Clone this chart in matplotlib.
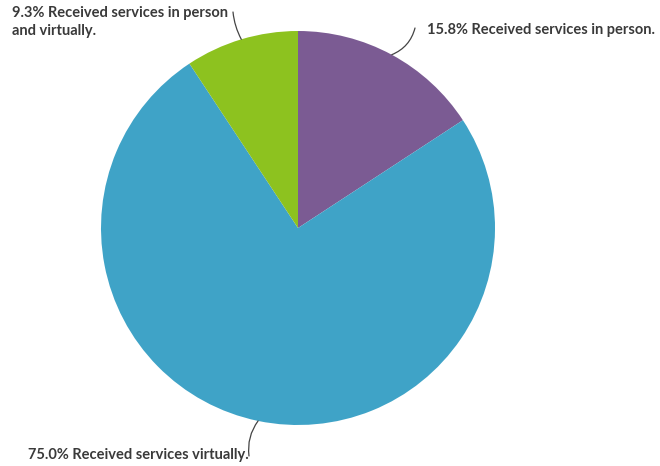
import numpy as np
import matplotlib.pyplot as plt

labels = ['15.8% Received services in person.',
          '75.0% Received services virtually.',
          '9.3% Received services in person\nand virtually.']
values = [15.8, 75.0, 9.3]
colors = ['#7b5b93', '#3fa3c7', '#8dc21f']

fig = plt.figure(figsize=(6.6, 4.66), dpi=100)
ax = fig.add_axes([0, 0, 1, 1])

cx, cy, r = 298, 238, 197
wedges, _ = ax.pie(values, colors=colors, startangle=90, counterclock=False,
                   center=(cx, cy), radius=r, frame=True,
                   wedgeprops=dict(linewidth=0))
ax.set_xlim(0, 660)
ax.set_ylim(0, 466)
ax.axis('off')

# label positions (text anchor, line end, curvature)
txt_pos = [(427, 436, 'left', 'center'), (28, 11, 'left', 'center'), (12, 460, 'left', 'top')]
line_end = [(415, 438), (249, 10), (233, 454)]
rads = [-0.25, -0.2, 0.1]

for w, lab, tp, le, rd in zip(wedges, labels, txt_pos, line_end, rads):
    mid = np.deg2rad((w.theta1 + w.theta2) / 2)
    px, py = cx + r * np.cos(mid), cy + r * np.sin(mid)
    ax.annotate('', xy=(px, py), xytext=le,
                arrowprops=dict(arrowstyle='-', color='#444444', lw=0.9,
                                shrinkA=0, shrinkB=0,
                                connectionstyle='arc3,rad=%s' % rd))
    ax.text(tp[0], tp[1], lab, ha=tp[2], va=tp[3], fontsize=10.5,
            fontweight='bold', color='#3a3a3a', family='Lato', linespacing=1.35)

fig.savefig('out.png', dpi=100)
